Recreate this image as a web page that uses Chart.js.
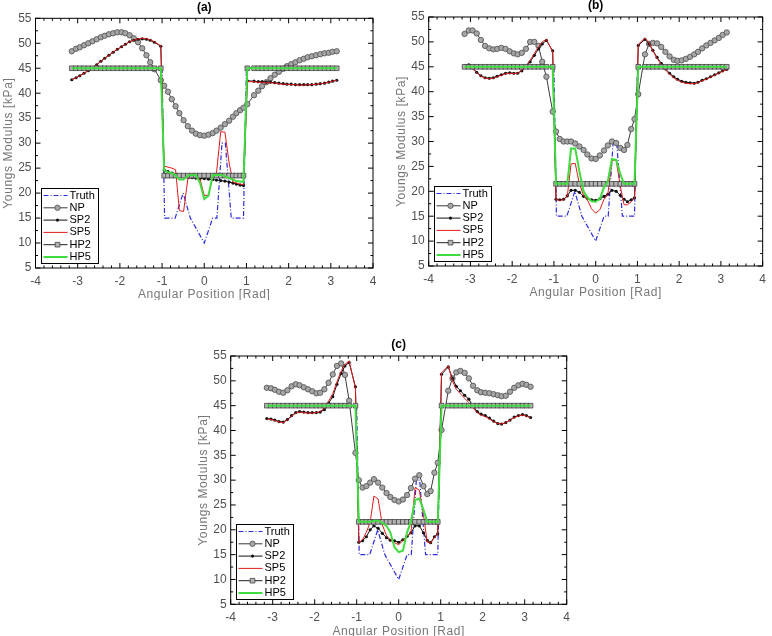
<!DOCTYPE html>
<html>
<head>
<meta charset="utf-8">
<script src="https://cdn.jsdelivr.net/npm/chart.js@4.4.0/dist/chart.umd.min.js"></script>
<style>
  body { margin: 0; background: #fff; width: 772px; height: 636px; position: relative; overflow: hidden; }
  canvas { position: absolute; }
</style>
</head>
<body>
<canvas id="chartA" width="386" height="300" style="left:0;top:0"></canvas>
<canvas id="chartB" width="386" height="300" style="left:386px;top:0"></canvas>
<canvas id="chartC" width="390" height="316" style="left:190px;top:320px"></canvas>
<script>
// angular positions of the reconstruction nodes [rad]
const angle = [
  -3.14,-3.04,-2.95,-2.85,-2.75,-2.65,-2.55,-2.45,-2.36,-2.26,-2.16,-2.06,-1.96,-1.87,-1.77,-1.67,-1.57,-1.47,-1.37,-1.28,-1.18,-1.03,
  -0.95,-0.86,-0.77,-0.68,-0.59,-0.49,-0.39,-0.29,-0.20,-0.10,0,0.10,0.20,0.29,0.39,0.49,0.59,0.68,0.76,0.85,0.93,
  1.02,1.18,1.28,1.37,1.47,1.57,1.67,1.77,1.87,1.96,2.06,2.16,2.26,2.36,2.45,2.55,2.65,2.75,2.85,2.95,3.04,3.14
];

// true modulus profile (same in all panels)
const truthAngle = [-3.14,-1.0,-0.94,-0.69,-0.5,-0.33,0,0.2,0.3,0.42,0.5,0.64,0.93,1.0,3.14];
const truthValue = [45,45,15,15,20,15,10,15,15,30,30,15,15,45,45];

// panel (a)
const npA = [
  48.4,48.9,49.2,49.6,50.0,50.4,50.8,51.2,51.5,51.8,52.0,52.2,52.2,52.0,51.6,51.0,50.2,49.0,47.6,46.2,44.8,42.6,
  41.5,40.3,38.8,37.4,36.0,34.6,33.4,32.5,31.9,31.6,31.5,31.7,32.0,32.5,33.1,33.8,34.5,35.3,36.0,36.6,37.1,
  37.8,39.6,40.5,41.4,42.2,43.0,43.7,44.3,44.9,45.4,45.8,46.2,46.6,46.9,47.2,47.4,47.6,47.8,48.0,48.1,48.3,48.4
];
const sp2A = [
  42.7,43.1,43.5,44.0,44.5,45.1,45.7,46.4,47.0,47.6,48.2,48.8,49.3,49.8,50.3,50.6,50.8,50.9,50.8,50.6,50.2,49.4,
  24.6,24.3,24.0,23.7,23.5,23.3,23.2,23.1,23.0,22.9,22.9,22.8,22.7,22.6,22.5,22.4,22.2,22.0,21.8,21.6,21.5,
  42.5,42.4,42.3,42.3,42.2,42.2,42.1,42.0,41.9,41.8,41.8,41.7,41.7,41.7,41.7,41.7,41.8,41.9,42.0,42.2,42.4,42.6
];
const sp5A = [
  42.7,43.1,43.5,44.0,44.5,45.1,45.7,46.4,47.0,47.6,48.2,48.8,49.3,49.8,50.3,50.6,50.9,51.0,50.9,50.7,50.3,49.5,
  25.4,25.2,25.0,24.7,16.5,16.3,22.8,23.2,23.3,22.8,19.5,19.6,23.3,24.0,32.3,32.2,26.0,22.2,22.0,21.8,21.7,
  42.3,42.3,42.2,42.2,42.1,42.1,42.0,41.9,41.8,41.8,41.7,41.7,41.6,41.6,41.7,41.7,41.8,41.9,42.0,42.2,42.4,42.6
];
const hp2A = [
  45,45,45,45,45,45,45,45,45,45,45,45,45,45,45,45,45,45,45,45,45,45,
  23.5,23.5,23.5,23.5,23.5,23.5,23.5,23.5,23.5,23.5,23.5,23.5,23.5,23.5,23.5,23.5,23.5,23.5,23.5,23.5,23.5,
  45,45,45,45,45,45,45,45,45,45,45,45,45,45,45,45,45,45,45,45,45,45
];
const hp5A = [
  45,45,45,45,45,45,45,45,45,45,45,45,45,45,45,45,45,45,45,45,45,45,
  24.5,24.2,24.0,23.5,22.7,22.7,23.5,23.6,23.6,22.0,18.8,19.5,23.6,23.6,23.6,23.4,23.0,22.7,22.4,22.3,22.2,
  45,45,45,45,45,45,45,45,45,45,45,45,45,45,45,45,45,45,45,45,45,45
];

// panel (b)
const npB = [
  51.6,52.3,52.3,51.7,50.4,49.2,48.7,48.5,48.6,48.8,48.6,48.1,47.7,47.5,47.8,48.6,50.0,50.0,49.2,46.0,43.0,36.0,
  32.0,30.5,30.0,30.0,30.0,29.6,29.0,28.3,27.4,26.6,26.5,27.2,28.2,29.2,30.0,29.7,28.7,28.3,29.3,32.5,34.5,
  39.5,47.5,49.6,49.8,49.7,49.0,48.0,47.1,46.4,46.2,46.3,46.6,47.0,47.5,48.0,48.7,49.3,49.8,50.3,50.8,51.4,51.9
];
const sp2B = [
  45.2,45.4,44.8,43.9,43.2,42.8,42.7,42.8,43.1,43.4,43.7,43.8,43.7,43.7,44.2,45.0,46.0,47.3,48.6,49.6,50.3,48.2,
  18.4,18.3,18.4,19.1,20.2,20.2,19.8,19.0,18.6,18.3,18.2,18.5,19.0,19.4,20.2,20.0,19.2,18.4,17.9,18.3,18.7,
  49.3,50.5,49.6,48.3,46.9,45.7,44.6,43.7,43.0,42.5,42.1,41.9,41.8,41.7,41.9,42.3,42.6,43.0,43.4,43.8,44.2,44.5
];
const sp5B = [
  45.0,45.2,44.6,43.8,43.1,42.7,42.6,42.7,43.0,43.3,43.6,43.7,43.6,43.7,44.3,45.2,46.3,47.7,49.0,50.0,50.5,48.0,
  18.3,18.2,18.3,19.0,25.5,25.6,21.5,19.2,18.3,16.5,15.6,16.3,18.4,19.3,26.2,26.3,21.0,17.3,17.3,17.9,18.6,
  49.5,50.8,49.8,48.2,46.7,45.5,44.4,43.5,42.8,42.3,41.9,41.7,41.6,41.6,41.8,42.2,42.5,42.9,43.3,43.7,44.1,44.4
];
const hp2B = [
  45,45,45,45,45,45,45,45,45,45,45,45,45,45,45,45,45,45,45,45,45,45,
  21.5,21.5,21.5,21.5,21.5,21.5,21.5,21.5,21.5,21.5,21.5,21.5,21.5,21.5,21.5,21.5,21.5,21.5,21.5,21.5,21.5,
  45,45,45,45,45,45,45,45,45,45,45,45,45,45,45,45,45,45,45,45,45,45
];
const hp5B = [
  45,45,45,45,45,45,45,45,45,45,45,45,45,45,45,45,45,45,45,45,45,45,
  21.5,21.5,21.5,21.5,28.6,28.6,24.0,20.0,18.8,18.0,17.9,18.5,20.8,22.0,26.5,26.3,23.5,21.5,21.5,21.5,21.5,
  45,45,45,45,45,45,45,45,45,45,45,45,45,45,45,45,45,45,45,45,45,45
];

// panel (c)
const npC = [
  48.6,48.5,48.2,47.8,47.6,48.1,48.9,49.3,49.1,48.7,48.3,47.9,47.5,47.6,48.3,49.6,51.3,53.0,53.5,51.2,46.0,35.5,
  30.0,28.5,28.8,29.5,30.2,29.5,28.5,27.4,26.6,26.0,25.7,26.1,27.0,28.4,30.3,31.0,28.8,27.2,27.8,31.5,33.5,
  40.1,48.0,50.5,51.7,52.0,51.6,50.5,49.0,48.1,47.7,47.6,47.5,47.3,47.1,46.9,47.0,47.8,48.6,49.1,49.4,49.2,48.8
];
const sp2C = [
  42.4,42.3,42.1,41.8,41.7,42.2,43.0,43.6,43.8,43.7,43.6,43.6,43.6,43.7,44.2,45.5,46.8,49.3,51.5,53.0,53.7,48.8,
  17.5,17.8,18.6,20.0,20.8,20.3,19.3,18.4,17.9,17.8,17.5,18.0,18.7,19.4,20.8,20.8,19.4,17.9,17.4,18.6,19.2,
  51.3,52.8,50.5,48.9,48.0,47.1,46.3,44.9,43.8,43.3,43.0,42.5,41.9,41.4,41.3,41.6,42.1,42.7,43.0,43.2,43.0,42.6
];
const sp5C = [
  42.3,42.2,42.0,41.7,41.6,42.1,42.9,43.5,43.7,43.6,43.5,43.5,43.6,43.8,44.5,45.9,47.4,49.8,52.0,53.3,54.0,48.5,
  17.4,18.0,19.5,21.5,26.8,26.2,21.0,18.8,18.0,17.4,17.0,17.8,18.8,19.3,28.5,28.0,23.0,17.5,17.3,18.5,19.0,
  51.6,53.0,50.0,48.3,47.4,46.5,45.6,44.5,43.6,43.1,42.8,42.3,41.8,41.4,41.3,41.6,42.1,42.6,42.9,43.1,42.9,42.5
];
const hp2C = [
  45,45,45,45,45,45,45,45,45,45,45,45,45,45,45,45,45,45,45,45,45,45,
  21.6,21.6,21.6,21.6,21.6,21.6,21.6,21.6,21.6,21.6,21.6,21.6,21.6,21.6,21.6,21.6,21.6,21.6,21.6,21.6,21.6,
  45,45,45,45,45,45,45,45,45,45,45,45,45,45,45,45,45,45,45,45,45,45
];
const hp5C = [
  45,45,45,45,45,45,45,45,45,45,45,45,45,45,45,45,45,45,45,45,45,45,
  21.6,21.6,21.6,21.6,21.8,21.8,21.4,20.8,19.5,16.5,15.5,15.8,19.5,21.6,26.0,26.3,24.0,21.6,21.6,21.6,21.6,
  45,45,45,45,45,45,45,45,45,45,45,45,45,45,45,45,45,45,45,45,45,45
];

const panelTitles = ['(a)', '(b)', '(c)'];
const xTitle = 'Angular Position [Rad]';
const yTitle = 'Youngs Modulus [kPa]';

const FONT = '"Liberation Sans", Arial, Helvetica, sans-serif';

function pts(xs, ys) {
  return xs.map((x, i) => ({ x: x, y: ys[i] }));
}

function makeDatasets(np, sp2, sp5, hp2, hp5) {
  return [
    { label: 'Truth', data: pts(truthAngle, truthValue), borderColor: '#2c2ce0', borderWidth: 1.2,
      borderDash: [5, 2, 1, 2], pointRadius: 0, order: 6 },
    { label: 'NP', data: pts(angle, np), borderColor: '#3a3a3a', borderWidth: 1, pointStyle: 'circle',
      pointRadius: 2.7, pointBackgroundColor: '#a6a6a6', pointBorderColor: '#4d4d4d', pointBorderWidth: 0.8, order: 5 },
    { label: 'SP2', data: pts(angle, sp2), borderColor: '#111111', borderWidth: 1, pointStyle: 'circle',
      pointRadius: 1.6, pointBackgroundColor: '#111111', pointBorderColor: '#111111', pointBorderWidth: 0, order: 4 },
    { label: 'SP5', data: pts(angle, sp5), borderColor: '#e01b1b', borderWidth: 1, pointRadius: 0, order: 3 },
    { label: 'HP2', data: pts(angle, hp2), borderColor: '#222222', borderWidth: 1, pointStyle: 'rect',
      pointRadius: 3.3, pointBackgroundColor: '#b4b4b4', pointBorderColor: '#303030', pointBorderWidth: 0.7, order: 2 },
    { label: 'HP5', data: pts(angle, hp5), borderColor: '#3fdc3f', borderWidth: 2, pointRadius: 0, order: 1 }
  ];
}

// box, inward ticks, panel title, axis titles and legend
const framePlugin = {
  id: 'frame',
  afterDraw(chart, args, opts) {
    const ctx = chart.ctx;
    const a = chart.chartArea;
    const x = chart.scales.x, y = chart.scales.y;
    ctx.save();
    ctx.strokeStyle = '#000';
    ctx.lineWidth = 1;
    ctx.strokeRect(a.left, a.top, a.right - a.left, a.bottom - a.top);

    ctx.beginPath();
    for (let k = 0; k <= 40; k++) {
      const px = x.getPixelForValue(-4 + k * 0.2);
      const len = k % 5 === 0 ? 5 : 2.5;
      ctx.moveTo(px, a.bottom); ctx.lineTo(px, a.bottom - len);
      ctx.moveTo(px, a.top); ctx.lineTo(px, a.top + len);
    }
    for (let k = 0; k <= 20; k++) {
      const py = y.getPixelForValue(5 + k * 2.5);
      const len = k % 2 === 0 ? 5 : 2.5;
      ctx.moveTo(a.left, py); ctx.lineTo(a.left + len, py);
      ctx.moveTo(a.right, py); ctx.lineTo(a.right - len, py);
    }
    ctx.stroke();

    // panel title
    const cx = (a.left + a.right) / 2;
    ctx.fillStyle = '#000';
    ctx.font = 'bold 12px ' + FONT;
    ctx.textAlign = 'center';
    ctx.textBaseline = 'middle';
    ctx.fillText(opts.title, cx, a.top - 11);

    // axis titles
    ctx.fillStyle = '#777';
    ctx.font = '12px ' + FONT;
    ctx.letterSpacing = '0.6px';
    ctx.fillText(xTitle, cx, a.bottom + 27);
    ctx.save();
    ctx.translate(a.left - 27, (a.top + a.bottom) / 2);
    ctx.rotate(-Math.PI / 2);
    ctx.fillText(yTitle, 0, 0);
    ctx.restore();
    ctx.letterSpacing = '0px';

    // legend box in the lower left corner
    const bw = 57, bh = 75;
    const bx = Math.round(a.left + 5) + 0.5, by = Math.round(a.bottom - 5 - bh) + 0.5;
    ctx.fillStyle = '#fff';
    ctx.fillRect(bx, by, bw, bh);
    ctx.strokeStyle = '#000';
    ctx.lineWidth = 1;
    ctx.strokeRect(bx, by, bw, bh);
    ctx.font = '11px ' + FONT;
    ctx.textAlign = 'left';
    chart.data.datasets.forEach((ds, k) => {
      const yy = by + 7 + k * 12.3;
      ctx.save();
      ctx.strokeStyle = ds.borderColor;
      ctx.lineWidth = ds.borderWidth;
      ctx.setLineDash(ds.borderDash || []);
      ctx.beginPath();
      ctx.moveTo(bx + 2, yy);
      ctx.lineTo(bx + 26, yy);
      ctx.stroke();
      ctx.setLineDash([]);
      if (ds.pointRadius > 0) {
        const mx = bx + 16, r = ds.pointRadius;
        ctx.fillStyle = ds.pointBackgroundColor;
        ctx.strokeStyle = ds.pointBorderColor;
        ctx.lineWidth = ds.pointBorderWidth;
        ctx.beginPath();
        if (ds.pointStyle === 'rect') {
          const s = r * Math.SQRT1_2;
          ctx.rect(mx - s, yy - s, 2 * s, 2 * s);
        } else {
          ctx.arc(mx, yy, r, 0, Math.PI * 2);
        }
        ctx.fill();
        if (ds.pointBorderWidth > 0) ctx.stroke();
      }
      ctx.fillStyle = '#000';
      ctx.textBaseline = 'middle';
      ctx.fillText(ds.label, bx + 28, yy);
      ctx.restore();
    });
    ctx.restore();
  }
};

const panels = [
  { id: 'chartA', title: panelTitles[0], series: [npA, sp2A, sp5A, hp2A, hp5A], yWidth: 35.5, xHeight: 32, padTop: 18.3, padRight: 13 },
  { id: 'chartB', title: panelTitles[1], series: [npB, sp2B, sp5B, hp2B, hp5B], yWidth: 42.7, xHeight: 34, padTop: 17, padRight: 6 },
  { id: 'chartC', title: panelTitles[2], series: [npC, sp2C, sp5C, hp2C, hp5C], yWidth: 40.7, xHeight: 31.7, padTop: 36, padRight: 13.3 }
];

panels.forEach(function (p) {
  new Chart(document.getElementById(p.id), {
    type: 'scatter',
    data: { datasets: makeDatasets.apply(null, p.series) },
    options: {
      responsive: false,
      animation: false,
      events: [],
      showLine: true,
      elements: { line: { tension: 0 } },
      layout: { padding: { top: p.padTop, right: p.padRight, left: 0, bottom: 0 } },
      plugins: {
        legend: { display: false },
        tooltip: { enabled: false },
        frame: { title: p.title }
      },
      scales: {
        x: {
          type: 'linear', min: -4, max: 4,
          grid: { display: false, drawTicks: false },
          border: { display: false },
          ticks: { stepSize: 1, autoSkip: false, maxRotation: 0, padding: 6, color: '#505050',
                   font: { family: FONT, size: 12 } },
          afterFit: function (s) { s.height = p.xHeight; }
        },
        y: {
          type: 'linear', min: 5, max: 55,
          grid: { display: false, drawTicks: false },
          border: { display: false },
          ticks: { stepSize: 5, autoSkip: false, padding: 4, color: '#505050',
                   font: { family: FONT, size: 12 } },
          afterFit: function (s) { s.width = p.yWidth; }
        }
      }
    },
    plugins: [framePlugin]
  });
});
</script>
</body>
</html>
